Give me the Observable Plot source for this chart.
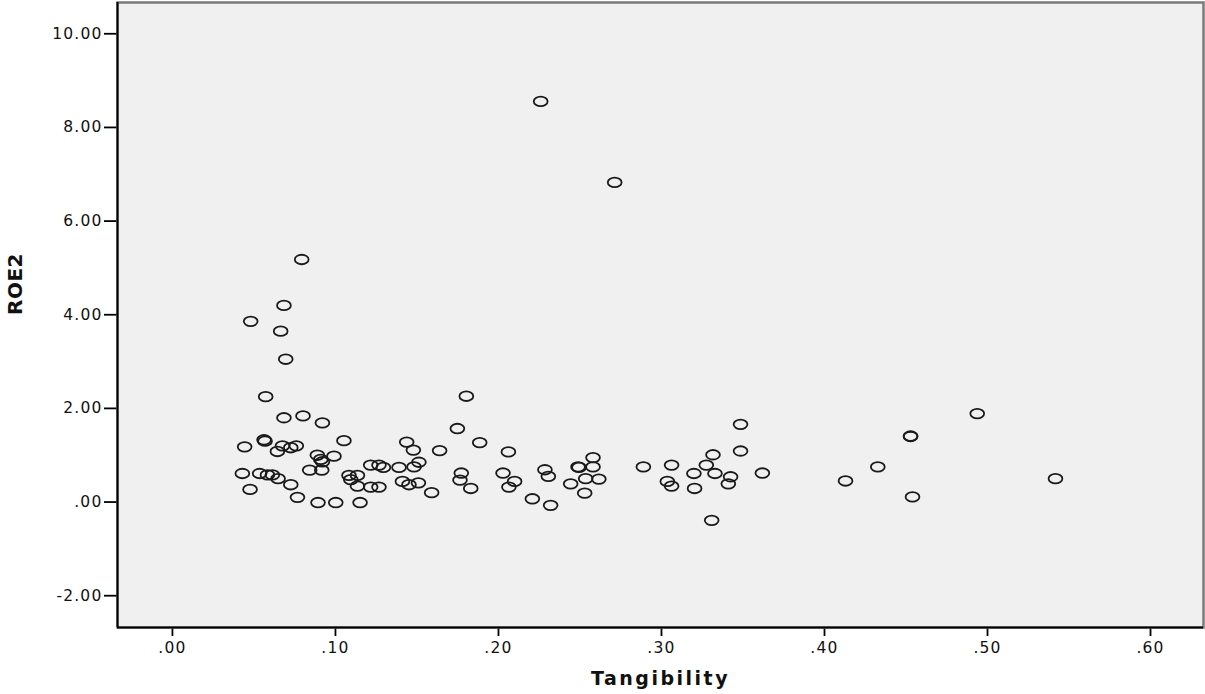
<!DOCTYPE html>
<html>
<head>
<meta charset="utf-8">
<script src="https://cdn.jsdelivr.net/npm/d3@7"></script>
<script src="https://cdn.jsdelivr.net/npm/@observablehq/plot@0.6"></script>
<style>
  html, body { margin: 0; padding: 0; background: #fff; }
  #chart { width: 1205px; height: 694px; }
  #chart svg g[aria-label$="axis tick"],
  #chart svg g[aria-label$="axis tick"] path,
  #chart svg .tick line { stroke: #000 !important; stroke-width: 1.8px !important; stroke-opacity: 1 !important; }
</style>
</head>
<body>
<div id="chart"></div>
<script>
// Tangibility (x) and ROE2 (y) values
const tangibility = [
  0.2259, 0.2713, 0.0793, 0.0480, 0.0684, 0.0664, 0.0695, 0.0572, 0.1803, 0.4937,
  0.3485, 0.1748, 0.3308, 0.0684, 0.0801, 0.0920, 0.1052, 0.0443, 0.0562, 0.0568,
  0.0675, 0.0644, 0.0726, 0.0760, 0.0889, 0.0910, 0.0920, 0.0991, 0.0429, 0.0535,
  0.0583, 0.0613, 0.0648, 0.0476, 0.0726, 0.0767, 0.0842, 0.0916, 0.0893, 0.1002,
  0.1151, 0.1083, 0.1094, 0.1135, 0.1135, 0.1216, 0.1267, 0.1294, 0.1216, 0.1267,
  0.1390, 0.1437, 0.1478, 0.1482, 0.1512, 0.1411, 0.1451, 0.1509, 0.1590, 0.1639,
  0.1885, 0.2061, 0.1772, 0.1764, 0.1830, 0.2028, 0.2099, 0.2064, 0.2208, 0.2320,
  0.2285, 0.2306, 0.2443, 0.2494, 0.2488, 0.2580, 0.2580, 0.2535, 0.2616, 0.2529,
  0.2889, 0.3062, 0.3036, 0.3062, 0.3485, 0.3316, 0.3275, 0.3199, 0.3328, 0.3424,
  0.3410, 0.3203, 0.3619, 0.4129, 0.4327, 0.4528, 0.4528, 0.4540, 0.5417
];
const roe2 = [
  8.555, 6.826, 5.18, 3.86, 4.20, 3.65, 3.05, 2.25, 2.26, 1.89,
  1.66, 1.57, -0.39, 1.80, 1.84, 1.69, 1.31, 1.18, 1.33, 1.30,
  1.20, 1.08, 1.16, 1.20, 1.00, 0.91, 0.86, 0.98, 0.61, 0.61,
  0.58, 0.58, 0.50, 0.27, 0.37, 0.10, 0.68, 0.68, -0.01, -0.01,
  -0.01, 0.57, 0.48, 0.57, 0.34, 0.79, 0.79, 0.74, 0.32, 0.32,
  0.74, 1.28, 1.11, 0.75, 0.85, 0.44, 0.37, 0.41, 0.20, 1.10,
  1.27, 1.07, 0.62, 0.47, 0.29, 0.62, 0.44, 0.32, 0.07, -0.07,
  0.69, 0.55, 0.39, 0.74, 0.75, 0.95, 0.75, 0.50, 0.49, 0.19,
  0.75, 0.79, 0.44, 0.34, 1.09, 1.01, 0.79, 0.61, 0.61, 0.54,
  0.39, 0.29, 0.62, 0.45, 0.75, 1.40, 1.41, 0.11, 0.50
];
const xTicks = [0, 0.1, 0.2, 0.3, 0.4, 0.5, 0.6];
const yTicks = [-2, 0, 2, 4, 6, 8, 10];
const xDomain = [-0.0337, 0.6325];
const yDomain = [-2.679, 10.668];
const xTitle = "Tangibility";
const yTitle = "ROE2";

const data = tangibility.map((t, i) => ({t, r: roe2[i]}));

// open ellipse marker (the reference is horizontally stretched)
const ellipse = {
  draw(context, size) {
    const rx = Math.sqrt(size / Math.PI), ry = rx * 0.69, k = 0.5523;
    context.moveTo(rx, 0);
    context.bezierCurveTo(rx, k * ry, k * rx, ry, 0, ry);
    context.bezierCurveTo(-k * rx, ry, -rx, k * ry, -rx, 0);
    context.bezierCurveTo(-rx, -k * ry, -k * rx, -ry, 0, -ry);
    context.bezierCurveTo(k * rx, -ry, rx, -k * ry, rx, 0);
    context.closePath();
  }
};

const fmt = v => v === 0 ? ".00" : v.toFixed(2).replace(/^0/, "");

const chart = Plot.plot({
  width: 1205,
  height: 694,
  marginLeft: 117,
  marginRight: 2,
  marginTop: 2,
  marginBottom: 67,
  style: {
    fontFamily: "DejaVu Sans",
    fontSize: "15.5px",
    letterSpacing: "1.2px",
    color: "#111",
    background: "#ffffff"
  },
  x: {
    domain: xDomain,
    ticks: xTicks,
    tickFormat: fmt,
    tickSize: 9,
    tickPadding: 5,
    label: null
  },
  y: {
    domain: yDomain,
    ticks: yTicks,
    tickFormat: fmt,
    tickSize: 13,
    tickPadding: 2,
    label: null
  },
  marks: [
    Plot.frame({fill: "#f0f0f0", stroke: "#7a7a7a", strokeWidth: 2.5}),
    Plot.ruleX([xDomain[0]], {stroke: "#000", strokeWidth: 2}),
    Plot.ruleY([yDomain[0]], {stroke: "#000", strokeWidth: 2}),
    Plot.dot(data, {
      x: "t", y: "r", r: 6.9, symbol: ellipse,
      stroke: "#1a1a1a", strokeWidth: 1.8, fill: "none"
    }),
    Plot.text([xTitle], {
      frameAnchor: "bottom", text: d => d, dy: 57,
      fontSize: 19, fontWeight: "bold", fill: "#111"
    }),
    Plot.text([yTitle], {
      frameAnchor: "left", text: d => d, dx: -102, rotate: -90,
      fontSize: 20, fontWeight: "bold", fill: "#111"
    })
  ]
});

document.getElementById("chart").appendChild(chart);

d3.select(chart).selectAll("text").filter(function () {
  return this.textContent === xTitle;
}).style("letter-spacing", "2.5px");
d3.select(chart).selectAll("text").filter(function () {
  return this.textContent === yTitle;
}).style("letter-spacing", "0.5px");
</script>
</body>
</html>
